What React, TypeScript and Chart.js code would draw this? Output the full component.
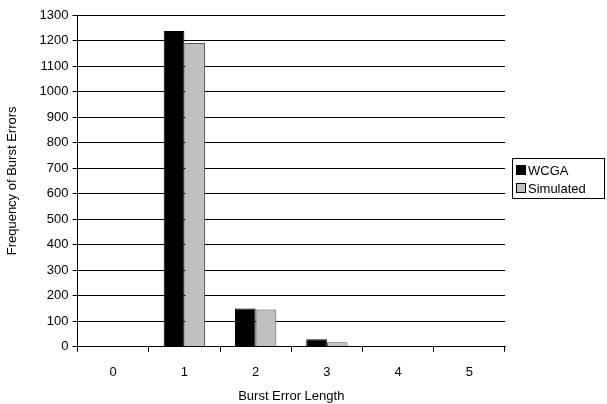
import React, { useEffect, useRef } from "react";
import { Chart, registerables } from "chart.js";

Chart.register(...registerables);

const categories = ["0", "1", "2", "3", "4", "5"];
const wcga = [0, 1237, 150, 30, 2, 0];
const simulated = [0, 1190, 146, 18, 2, 0];
const seriesNames = ["WCGA", "Simulated"];

export default function App() {
  const ref = useRef<HTMLCanvasElement>(null);
  useEffect(() => {
    if (!ref.current) return;
    const font = { family: "'Liberation Sans', Arial, sans-serif", size: 13 };
    const chart = new Chart(ref.current, {
      type: "bar",
      data: {
        labels: categories,
        datasets: [
          { label: seriesNames[0], data: wcga, backgroundColor: "#000000", borderColor: "#000000", borderWidth: 1 },
          { label: seriesNames[1], data: simulated, backgroundColor: "#c0c0c0", borderColor: "#555555", borderWidth: 1 },
        ],
      },
      options: {
        animation: false,
        responsive: false,
        maintainAspectRatio: false,
        layout: { padding: { top: 15, right: 102, bottom: 0, left: 5 } },
        plugins: { legend: { display: false }, tooltip: { enabled: false } },
        datasets: { bar: { categoryPercentage: 0.58, barPercentage: 1.0 } },
        scales: {
          x: {
            grid: { drawOnChartArea: false, drawTicks: true, tickLength: 5, color: "#000", offset: true },
            border: { color: "#000" },
            ticks: { color: "#000", font, padding: 13 },
            title: { display: true, text: "Burst Error Length", color: "#000", font, padding: { top: -5, bottom: 0 } },
          },
          y: {
            min: 0,
            max: 1300,
            grid: { color: "#000", tickLength: 5 },
            border: { color: "#000" },
            ticks: { stepSize: 100, color: "#000", font, padding: 4, callback: (v: any) => String(v) },
            title: { display: true, text: "Frequency of Burst Errors", color: "#000", font, padding: { top: 0, bottom: 15 } },
          },
        },
      },
    });
    return () => chart.destroy();
  }, []);
  const legendFont = "'Liberation Sans', Arial, sans-serif";
  return (
    <div style={{ position: "absolute", left: 0, top: 0, width: 607, height: 404, background: "#fff" }}>
      <canvas ref={ref} width={607} height={404} />
      <div
        style={{
          position: "absolute",
          left: 512,
          top: 158,
          width: 93,
          height: 41,
          border: "1px solid #000",
          boxSizing: "border-box",
          fontFamily: legendFont,
          fontSize: 13,
          color: "#000",
          padding: "2px 0 0 3px",
        }}
      >
        {seriesNames.map((n, i) => (
          <div key={n} style={{ display: "flex", alignItems: "center", height: 18 }}>
            <span
              style={{
                display: "inline-block",
                width: 8,
                height: 8,
                background: i === 0 ? "#000" : "#c0c0c0",
                border: "1px solid #000",
                marginRight: 2,
              }}
            />
            <span>{n}</span>
          </div>
        ))}
      </div>
    </div>
  );
}
